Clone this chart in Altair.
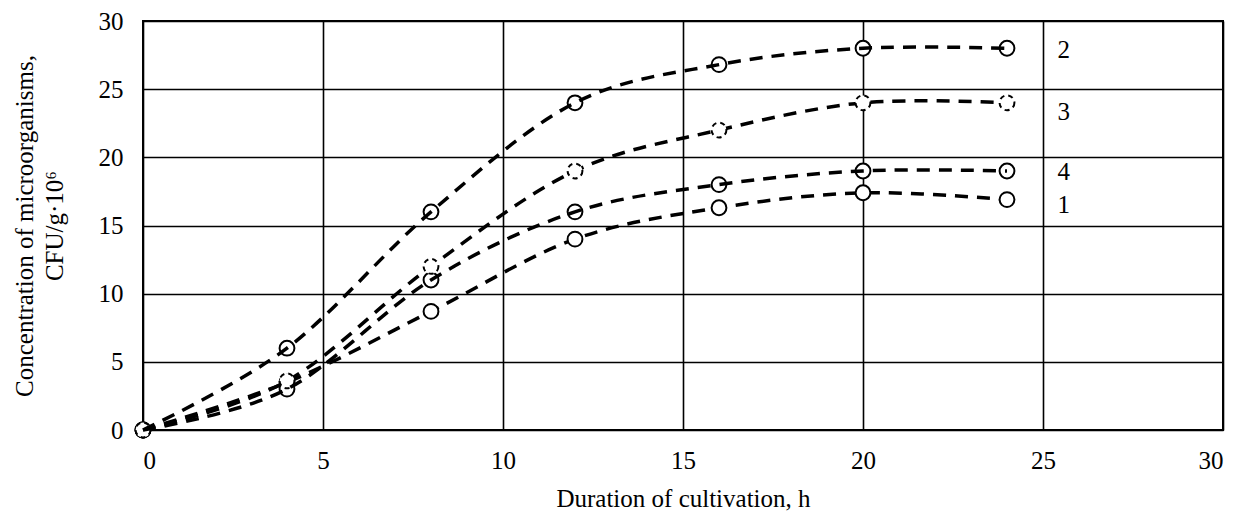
import altair as alt
import pandas as pd

hours = [0, 4, 8, 12, 16, 20, 24]
s1 = [0, 3.5, 8.7, 14.0, 16.3, 17.4, 16.9]
s2 = [0, 6.0, 16.0, 24.0, 26.8, 28.0, 28.0]
s3 = [0, 3.6, 12.0, 19.0, 22.0, 24.0, 24.0]
s4 = [0, 3.0, 11.0, 16.0, 18.0, 19.0, 19.0]
series_names = ["1", "2", "3", "4"]
label_y = [16.5, 27.9, 23.3, 18.9]
label_x = 25.4

rows = []
for name, vals in zip(series_names, [s1, s2, s3, s4]):
    for h, v in zip(hours, vals):
        rows.append({"h": h, "c": v, "s": name})
df = pd.DataFrame(rows)
lab = pd.DataFrame({"x": [label_x] * 4, "y": label_y, "t": series_names})

FONT = "Liberation Serif"
FS = 25
xs = alt.Scale(domain=[0, 30])
ys = alt.Scale(domain=[0, 30])
xax = alt.X("h:Q", scale=xs, axis=alt.Axis(values=[0, 5, 10, 15, 20, 25, 30],
            title="Duration of cultivation, h", titlePadding=13, labelPadding=18))
yax = alt.Y("c:Q", scale=ys, axis=alt.Axis(values=[0, 5, 10, 15, 20, 25, 30],
            title=["Concentration of microorganisms,", "CFU/g·10⁶"], titlePadding=31,
            labelPadding=20))

DASH = [13, 9]
base = alt.Chart(df)
lines_under = base.transform_filter("datum.s == '1' || datum.s == '3'").mark_line(
    interpolate="cardinal", color="black", strokeWidth=3.5,
    strokeDash=DASH).encode(x=xax, y=yax, detail="s:N")
pts_solid = base.transform_filter("datum.s != '3'").mark_point(
    shape="circle", size=220, filled=False, fill="white", fillOpacity=1,
    stroke="black", strokeWidth=2, opacity=1).encode(x=xax, y=yax)
pts_dash = base.transform_filter("datum.s == '3'").mark_point(
    shape="circle", size=220, filled=False, fill="white", fillOpacity=1,
    stroke="black", strokeWidth=2, strokeDash=[5, 4], opacity=1).encode(x=xax, y=yax)
lines_over = base.transform_filter("datum.s == '2' || datum.s == '4'").mark_line(
    interpolate="cardinal", color="black", strokeWidth=3.5,
    strokeDash=DASH).encode(x=xax, y=yax, detail="s:N")

texts = alt.Chart(lab).mark_text(align="left", baseline="middle", font=FONT,
                                 fontSize=FS, color="black").encode(
    x=alt.X("x:Q", scale=xs), y=alt.Y("y:Q", scale=ys), text="t:N")

chart = alt.layer(lines_under, pts_solid, pts_dash, lines_over, texts).properties(
    width=1080, height=409,
    autosize=alt.AutoSizeParams(type="none"),
    padding={"left": 135, "top": 13, "right": 14, "bottom": 81},
).configure_view(stroke="black", strokeWidth=2).configure_axis(
    grid=True, gridColor="black", gridWidth=1.6, gridOpacity=1,
    domain=False, ticks=False, labelFont=FONT, labelFontSize=FS,
    labelColor="black", titleFont=FONT, titleFontSize=FS, titleColor="black",
    titleFontWeight="normal", titleLineHeight=30,
)

chart.save("out.html", embed_options={"renderer": "svg", "actions": False})
